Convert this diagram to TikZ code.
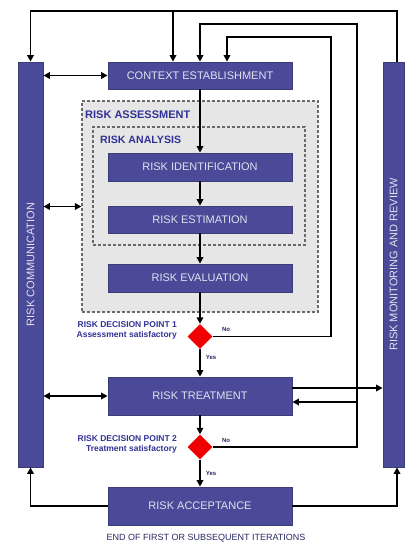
\documentclass[tikz,border=0pt]{standalone}
\usepackage{fontspec}
\setmainfont{Liberation Sans}
\usetikzlibrary{arrows.meta,shapes.geometric}
\definecolor{boxblue}{RGB}{74,74,152}
\definecolor{boxedge}{RGB}{60,60,120}
\definecolor{labblue}{RGB}{50,50,150}
\definecolor{navy}{RGB}{40,40,100}
\definecolor{assessgray}{RGB}{230,230,230}
\definecolor{dashgray}{RGB}{105,105,105}
\definecolor{dred}{RGB}{240,0,0}
\definecolor{boxtext}{RGB}{225,225,240}
\begin{document}
\begin{tikzpicture}[x=1pt,y=-1pt,
  stepbox/.style={draw=boxedge, fill=boxblue, line width=0.8pt, text=boxtext,
    font=\fontsize{11}{13}\selectfont, minimum width=184pt, inner sep=0pt},
  barbox/.style={draw=boxedge, fill=boxblue, line width=0.8pt, minimum height=405pt, inner sep=0pt},
  bartext/.style={text=boxtext, font=\fontsize{11}{13}\selectfont, rotate=90},
  dashbox/.style={draw=dashgray, dashed, dash pattern=on 3pt off 2pt, line width=1.1pt, fill=assessgray, inner sep=0pt},
  grouplabel/.style={text=labblue, font=\bfseries\fontsize{11}{13}\selectfont, anchor=west, inner sep=0pt},
  decision/.style={diamond, fill=dred, minimum width=25pt, minimum height=25pt, inner sep=0pt},
  declabel/.style={text=labblue, font=\bfseries\fontsize{8.5}{10}\selectfont, align=right, anchor=east, inner sep=0pt},
  yn/.style={text=navy, font=\bfseries\fontsize{6}{7}\selectfont, inner sep=0pt},
  conn/.style={line width=1.9pt, draw=black},
  arr/.style={conn, -{Triangle[length=6.5pt,width=6.5pt]}},
  darr/.style={conn, {Triangle[length=6.5pt,width=6.5pt]}-{Triangle[length=6.5pt,width=6.5pt]}}
]
\useasboundingbox (0,0) rectangle (406,548);

% group boxes
\node[dashbox, minimum width=236pt, minimum height=211pt] (assess) at (200,206.5) {};
\node[dashbox, minimum width=212pt, minimum height=118pt] (analysis) at (199,186) {};
\node[grouplabel] (assesslab) at (85,114.5) {RISK ASSESSMENT};
\node[grouplabel, font=\bfseries\fontsize{10.6}{12}\selectfont] (analysislab) at (100,140) {RISK ANALYSIS};

% side bars
\node[barbox, minimum width=25pt] (comm) at (30.5,264.5) {};
\node[bartext] (commtxt) at (comm.center) {RISK COMMUNICATION};
\node[barbox, minimum width=21pt] (mon) at (393.5,264.5) {};
\node[bartext] (montxt) at (mon.center) {RISK MONITORING AND REVIEW};

% process boxes
\node[stepbox, minimum height=27pt] (ctx) at (200,75.5) {CONTEXT ESTABLISHMENT};
\node[stepbox, minimum height=28pt] (ident) at (200,167) {RISK IDENTIFICATION};
\node[stepbox, minimum height=27pt] (estim) at (200,219.5) {RISK ESTIMATION};
\node[stepbox, minimum height=28pt] (evalu) at (200,278) {RISK EVALUATION};
\node[stepbox, minimum height=38pt] (treat) at (200,396) {RISK TREATMENT};
\node[stepbox, minimum height=38pt] (accept) at (200,506) {RISK ACCEPTANCE};

% decisions
\node[decision] (d1) at (200,336.5) {};
\node[decision] (d2) at (200,447) {};
\node[declabel] (d1lab) at (177,330.5) {RISK DECISION POINT 1\\Assessment satisfactory};
\node[declabel] (d2lab) at (177,444.5) {RISK DECISION POINT 2\\Treatment satisfactory};
\node[yn] (d1no) at (226,329) {No};
\node[yn] (d1yes) at (211,357) {Yes};
\node[yn] (d2no) at (226,440) {No};
\node[yn] (d2yes) at (211,473) {Yes};

\node[text=navy, font=\fontsize{9}{11}\selectfont, inner sep=0pt] (endlab) at (206,538) {END OF FIRST OR SUBSEQUENT ITERATIONS};

% helper coordinates
\coordinate (topR) at (397,11);
\coordinate (j1) at (173,11);
\coordinate (r2) at (357,24);
\coordinate (r3) at (331,37);
\coordinate (l3) at (227,37);

% main chain
\draw[arr] (ctx.south) -- (ident.north);
\draw[arr] (ident.south) -- (estim.north);
\draw[arr] (estim.south) -- (evalu.north);
\draw[arr] (evalu.south) -- (d1.north);
\draw[arr] (d1.south) -- (treat.north);
\draw[arr] (treat.south) -- (d2.north);
\draw[arr] (d2.south) -- (accept.north);

% top feedback from monitoring
\draw[arr] (topR |- mon.north) -- (topR) -| (comm.north);
\draw[arr] (j1) -- (j1 |- ctx.north);

% decision loops
\draw[arr] (d2.east) -| (r2) -| (ctx.north);
\draw[arr] (d1.east) -| (r3) -- (l3) -- (l3 |- ctx.north);

% communication links
\draw[darr] (comm.east |- ctx.west) -- (ctx.west);
\draw[darr] (comm.east |- assess.west) -- (assess.west);
\draw[darr] (comm.east |- treat.west) -- (treat.west);

% treatment and monitoring
\draw[arr] ([yshift=8pt]treat.east) -- ([yshift=8pt]treat.east -| mon.west);
\draw[arr] ([yshift=-6pt]treat.east -| r2) -- ([yshift=-6pt]treat.east);

% acceptance outputs
\draw[arr] (accept.west) -| (comm.south);
\draw[arr] (accept.east) -| (topR |- mon.south);
\end{tikzpicture}
\end{document}
